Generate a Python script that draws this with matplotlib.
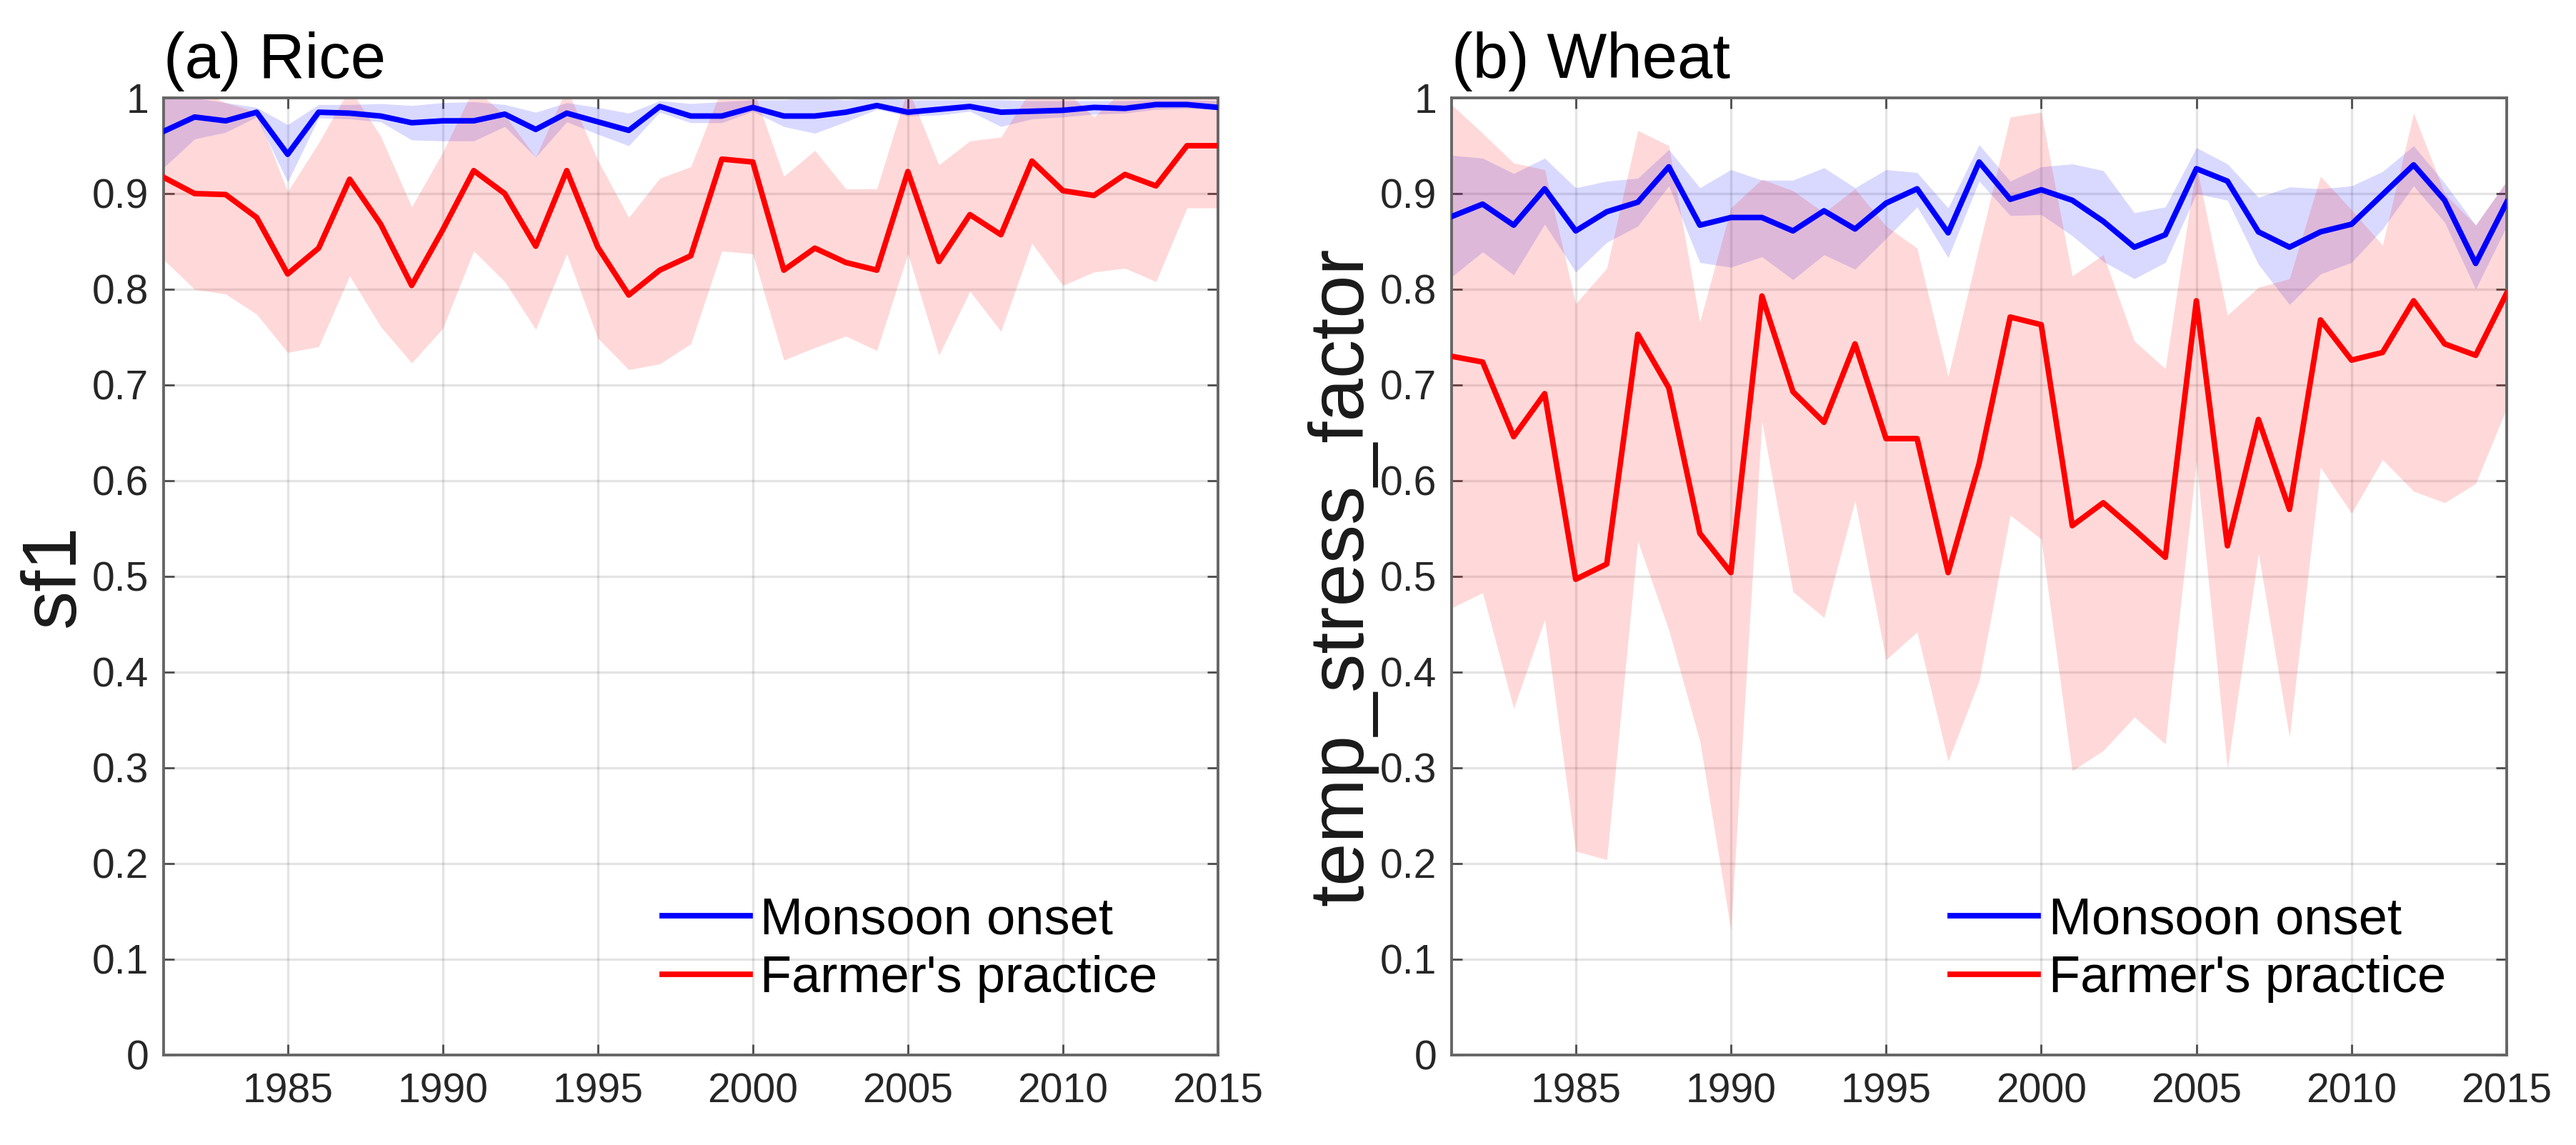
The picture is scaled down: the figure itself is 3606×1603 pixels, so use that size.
import matplotlib
matplotlib.use("Agg")
import matplotlib.pyplot as plt
import numpy as np

plt.rcParams['font.family'] = ['Liberation Sans', 'DejaVu Sans']

years = [1981, 1982, 1983, 1984, 1985, 1986, 1987, 1988, 1989, 1990,
         1991, 1992, 1993, 1994, 1995, 1996, 1997, 1998, 1999, 2000,
         2001, 2002, 2003, 2004, 2005, 2006, 2007, 2008, 2009, 2010,
         2011, 2012, 2013, 2014, 2015]

# ---- Rice (sf1) ----
rice_mon_mean = [0.965, 0.980, 0.976, 0.985, 0.941, 0.985, 0.984, 0.981, 0.974, 0.976,
                 0.976, 0.983, 0.967, 0.984, 0.975, 0.966, 0.991, 0.981, 0.981, 0.990,
                 0.981, 0.981, 0.985, 0.992, 0.985, 0.988, 0.991, 0.985, 0.986, 0.987,
                 0.990, 0.989, 0.993, 0.993, 0.990]
rice_mon_low = [0.927, 0.957, 0.964, 0.980, 0.912, 0.979, 0.978, 0.975, 0.956, 0.955,
                0.955, 0.970, 0.938, 0.975, 0.962, 0.950, 0.985, 0.974, 0.974, 0.986,
                0.970, 0.963, 0.975, 0.988, 0.981, 0.982, 0.986, 0.970, 0.978, 0.980,
                0.983, 0.984, 0.988, 0.989, 0.988]
rice_mon_up = [1.000, 1.000, 0.995, 0.990, 0.972, 0.993, 0.993, 0.994, 0.992, 0.995,
               0.996, 0.993, 0.985, 0.995, 0.990, 0.984, 0.997, 0.994, 0.996, 0.998,
               0.998, 1.000, 0.998, 1.000, 0.998, 0.998, 0.998, 0.998, 0.997, 0.997,
               0.997, 0.997, 0.998, 0.998, 0.997]
rice_far_mean = [0.917, 0.900, 0.899, 0.875, 0.816, 0.843, 0.915, 0.868, 0.804, 0.862,
                 0.924, 0.900, 0.845, 0.924, 0.844, 0.794, 0.820, 0.835, 0.936, 0.933,
                 0.820, 0.843, 0.828, 0.820, 0.923, 0.829, 0.878, 0.857, 0.934, 0.903,
                 0.898, 0.920, 0.908, 0.950, 0.950]
rice_far_low = [0.831, 0.800, 0.795, 0.774, 0.734, 0.740, 0.814, 0.761, 0.723, 0.759,
                0.840, 0.808, 0.758, 0.837, 0.749, 0.716, 0.722, 0.743, 0.840, 0.837,
                0.726, 0.739, 0.751, 0.736, 0.837, 0.731, 0.798, 0.756, 0.848, 0.804,
                0.818, 0.822, 0.808, 0.885, 0.885]
rice_far_up = [1.010, 1.010, 0.995, 0.985, 0.902, 0.953, 1.010, 0.960, 0.886, 0.943,
               1.010, 0.982, 0.938, 1.010, 0.935, 0.875, 0.916, 0.928, 1.010, 1.010,
               0.918, 0.945, 0.905, 0.905, 1.010, 0.930, 0.955, 0.959, 1.010, 1.010,
               0.980, 1.010, 1.010, 1.010, 1.010]

# ---- Wheat (temp_stress_factor) ----
wheat_mon_mean = [0.876, 0.889, 0.867, 0.905, 0.861, 0.881, 0.891, 0.928, 0.867, 0.875,
                  0.875, 0.861, 0.882, 0.863, 0.890, 0.905, 0.859, 0.933, 0.894, 0.904,
                  0.893, 0.871, 0.844, 0.857, 0.926, 0.913, 0.860, 0.844, 0.860, 0.868,
                  0.899, 0.930, 0.893, 0.827, 0.891]
wheat_mon_up = [0.940, 0.937, 0.921, 0.937, 0.906, 0.913, 0.916, 0.946, 0.906, 0.925,
                0.914, 0.914, 0.927, 0.906, 0.925, 0.922, 0.885, 0.951, 0.913, 0.928,
                0.931, 0.924, 0.880, 0.886, 0.948, 0.931, 0.896, 0.907, 0.905, 0.908,
                0.923, 0.950, 0.911, 0.867, 0.913]
wheat_mon_low = [0.813, 0.839, 0.815, 0.868, 0.818, 0.849, 0.866, 0.908, 0.828, 0.823,
                 0.834, 0.810, 0.836, 0.821, 0.853, 0.886, 0.833, 0.913, 0.877, 0.878,
                 0.856, 0.829, 0.811, 0.828, 0.900, 0.893, 0.826, 0.784, 0.816, 0.828,
                 0.863, 0.908, 0.870, 0.800, 0.866]
wheat_far_mean = [0.730, 0.724, 0.646, 0.691, 0.497, 0.513, 0.753, 0.697, 0.545, 0.504,
                  0.793, 0.693, 0.661, 0.743, 0.644, 0.644, 0.504, 0.618, 0.771, 0.763,
                  0.553, 0.577, 0.549, 0.520, 0.788, 0.532, 0.664, 0.570, 0.768, 0.726,
                  0.734, 0.788, 0.743, 0.731, 0.796]
wheat_far_up = [0.993, 0.963, 0.932, 0.925, 0.785, 0.822, 0.966, 0.950, 0.766, 0.885,
                0.915, 0.903, 0.880, 0.905, 0.866, 0.843, 0.709, 0.845, 0.980, 0.985,
                0.814, 0.836, 0.746, 0.717, 0.930, 0.773, 0.802, 0.811, 0.918, 0.883,
                0.846, 0.984, 0.900, 0.867, 0.913]
wheat_far_low = [0.467, 0.483, 0.362, 0.455, 0.213, 0.204, 0.537, 0.444, 0.328, 0.131,
                 0.662, 0.484, 0.457, 0.579, 0.413, 0.442, 0.307, 0.391, 0.564, 0.539,
                 0.297, 0.318, 0.353, 0.325, 0.620, 0.299, 0.524, 0.332, 0.614, 0.566,
                 0.622, 0.589, 0.577, 0.597, 0.676]

series_labels = ["Monsoon onset", "Farmer's practice"]
xticks = [1985, 1990, 1995, 2000, 2005, 2010, 2015]
yticks = [0, 0.1, 0.2, 0.3, 0.4, 0.5, 0.6, 0.7, 0.8, 0.9, 1.0]
ytick_labels = ['0', '0.1', '0.2', '0.3', '0.4', '0.5', '0.6', '0.7', '0.8', '0.9', '1']

W, H = 3606, 1603
fig = plt.figure(figsize=(W / 200, H / 200), dpi=200)
ax1 = fig.add_axes([229 / W, 126 / H, 1476 / W, 1340 / H])
ax2 = fig.add_axes([2032 / W, 126 / H, 1477 / W, 1340 / H])

panels = [
    (ax1, '(a) Rice', 'sf1', rice_mon_mean, rice_mon_low, rice_mon_up,
     rice_far_mean, rice_far_low, rice_far_up),
    (ax2, '(b) Wheat', 'temp_stress_factor', wheat_mon_mean, wheat_mon_low, wheat_mon_up,
     wheat_far_mean, wheat_far_low, wheat_far_up),
]

for ax, title, ylabel, mm, ml, mu, fm, fl, fu in panels:
    ax.fill_between(years, ml, mu, color=(0, 0, 1), alpha=0.15, lw=0, zorder=1)
    ax.fill_between(years, fl, fu, color=(1, 0, 0), alpha=0.15, lw=0, zorder=1)
    l1, = ax.plot(years, mm, color=(0, 0, 1), lw=2.8, zorder=3)
    l2, = ax.plot(years, fm, color=(1, 0, 0), lw=2.8, zorder=3)
    ax.set_xlim(1981, 2015)
    ax.set_ylim(0, 1)
    ax.set_xticks(xticks)
    ax.set_xticklabels([str(t) for t in xticks])
    ax.set_yticks(yticks)
    ax.set_yticklabels(ytick_labels)
    ax.set_axisbelow(True)
    ax.grid(True, color='#262626', alpha=0.12, lw=1.2)
    for s in ax.spines.values():
        s.set_color('0.4')
        s.set_linewidth(1.4)
    ax.tick_params(axis='both', direction='in', length=5.5, width=1.0, color='0.3',
                   top=True, right=True, labelsize=20.5, labelcolor='0.15')
    ax.tick_params(axis='x', pad=9)
    ax.tick_params(axis='y', pad=7.5)
    ax.set_ylabel(ylabel, fontsize=39, labelpad=1, color='0.1')
    ax.set_title(title, loc='left', fontsize=32, pad=10)
    ax.legend([l1, l2], series_labels, loc='center left',
              bbox_to_anchor=(698 / 1476, 0.11), frameon=False, fontsize=26,
              handlelength=1.7, handletextpad=0.2, labelspacing=0.2,
              borderpad=0, borderaxespad=0)

fig.savefig('out.png', dpi=200)
